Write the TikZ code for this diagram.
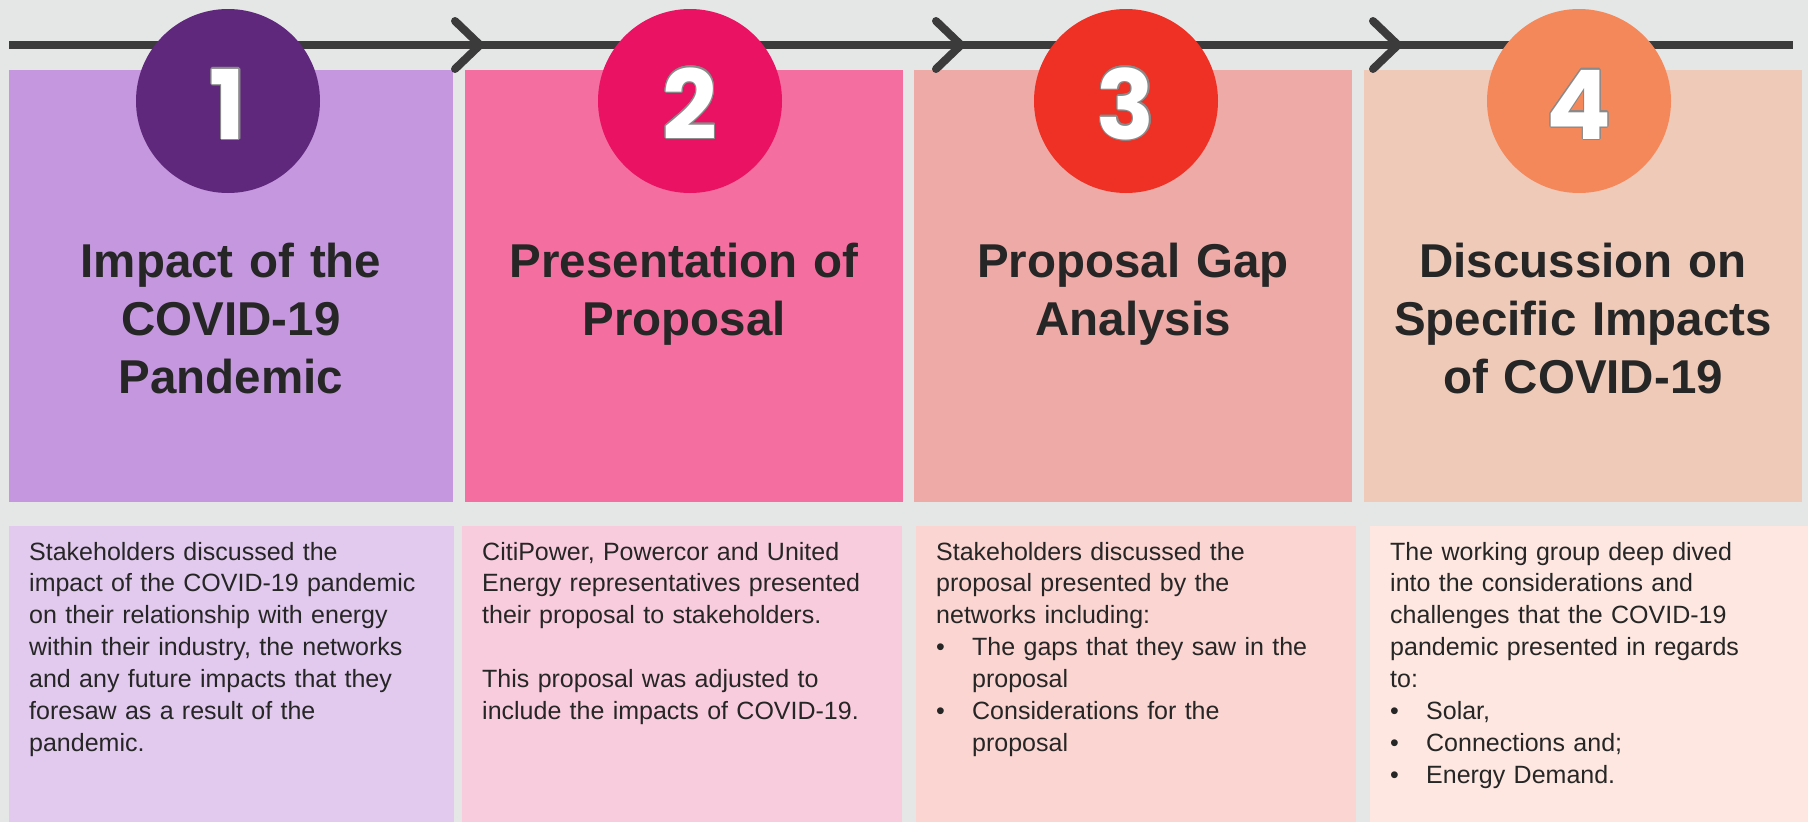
\documentclass[tikz,border=0pt]{standalone}
\usepackage{fontspec}
\setmainfont{Liberation Sans}
\newfontfamily\numfont{Poppins}
\usepackage{contour}
\contourlength{1.2pt}
\usetikzlibrary{calc}

\definecolor{bg}{HTML}{E5E7E6}
\definecolor{ink}{HTML}{262626}
\definecolor{rail}{HTML}{3B3B3B}
\definecolor{numedge}{HTML}{8A8A8A}
% step colours: disc, header panel, body panel
\definecolor{discA}{HTML}{5F287D}\definecolor{headA}{HTML}{C497DE}\definecolor{bodyA}{HTML}{E2C9EE}
\definecolor{discB}{HTML}{E91263}\definecolor{headB}{HTML}{F46E9F}\definecolor{bodyB}{HTML}{F9CCDD}
\definecolor{discC}{HTML}{EE3124}\definecolor{headC}{HTML}{EEAAA6}\definecolor{bodyC}{HTML}{FBD5D1}
\definecolor{discD}{HTML}{F4885A}\definecolor{headD}{HTML}{EFCAB8}\definecolor{bodyD}{HTML}{FDE7E0}

\begin{document}
\begin{tikzpicture}[x=1pt,y=-1pt,
  panel/.style={draw=none, inner sep=0, outer sep=0, anchor=north west},
  disc/.style={circle, draw=none, inner sep=0, minimum size=184},
  digit/.style={anchor=base, inner sep=0, text=white, font=\numfont\bfseries\fontsize{96}{96}\selectfont},
  heading/.style={anchor=base, inner sep=0, align=center, text width=440, text=ink,
                  font=\bfseries\fontsize{47.5}{58}\selectfont},
  body/.style={anchor=base west, inner sep=0, align=left, text width=420, text=ink,
               font=\fontsize{25}{31.9}\selectfont},
  railline/.style={draw=rail, line width=8},
  chevron/.style={draw=rail, line width=8, line cap=round, line join=round}]

% canvas
\fill[bg] (0,0) rectangle (1808,822);
\useasboundingbox (0,0) rectangle (1808,822);

% header panels
\node[panel, fill=headA, minimum width=444, minimum height=432] (headA) at (9,70) {};
\node[panel, fill=headB, minimum width=438, minimum height=432] (headB) at (465,70) {};
\node[panel, fill=headC, minimum width=438, minimum height=432] (headC) at (914,70) {};
\node[panel, fill=headD, minimum width=438, minimum height=432] (headD) at (1364,70) {};

% body panels
\node[panel, fill=bodyA, minimum width=445, minimum height=296] (bodyA) at (9,526) {};
\node[panel, fill=bodyB, minimum width=440, minimum height=296] (bodyB) at (462,526) {};
\node[panel, fill=bodyC, minimum width=440, minimum height=296] (bodyC) at (916,526) {};
\node[panel, fill=bodyD, minimum width=438, minimum height=296] (bodyD) at (1370,526) {};

% timeline rail with chevrons
\coordinate (railstart) at (9,45);
\coordinate (railend) at (1793,45);
\draw[railline] (railstart) -- (railend);
\coordinate (tipA) at (480,45);
\coordinate (tipB) at (961,45);
\coordinate (tipC) at (1398,45);
\draw[chevron] ($(tipA)+(-25,-24)$) -- (tipA) -- ($(tipA)+(-25,24)$);
\draw[chevron] ($(tipB)+(-25,-24)$) -- (tipB) -- ($(tipB)+(-25,24)$);
\draw[chevron] ($(tipC)+(-25,-24)$) -- (tipC) -- ($(tipC)+(-25,24)$);

% numbered discs
\node[disc, fill=discA] (discA) at (228,101) {};
\node[disc, fill=discB] (discB) at (690,101) {};
\node[disc, fill=discC] (discC) at (1126,101) {};
\node[disc, fill=discD] (discD) at (1579,101) {};
\node[digit] (numA) at (228,139) {\contour{numedge}{1}};
\node[digit] (numB) at (690,139) {\contour{numedge}{2}};
\node[digit] (numC) at (1126,139) {\contour{numedge}{3}};
\node[digit] (numD) at (1579,139) {\contour{numedge}{4}};

% headings
\node[heading] (titleA) at (231,277) {Impact of the\\COVID-19\\Pandemic};
\node[heading] (titleB) at (684,277) {Presentation of\\Proposal};
\node[heading] (titleC) at (1133,277) {Proposal Gap\\Analysis};
\node[heading] (titleD) at (1583,277) {Discussion on\\Specific Impacts\\of COVID-19};

% descriptions
\node[body] (textA) at (29,560) {Stakeholders discussed the\\
impact of the COVID-19 pandemic\\
on their relationship with energy\\
within their industry, the networks\\
and any future impacts that they\\
foresaw as a result of the\\
pandemic.};
\node[body] (textB) at (482,560) {CitiPower, Powercor and United\\
Energy representatives presented\\
their proposal to stakeholders.\\[31.9pt]
This proposal was adjusted to\\
include the impacts of COVID-19.};
\node[body] (textC) at (936,560) {Stakeholders discussed the\\
proposal presented by the\\
networks including:\\
\makebox[36pt][l]{•}The gaps that they saw in the\\
\hspace*{36pt}proposal\\
\makebox[36pt][l]{•}Considerations for the\\
\hspace*{36pt}proposal};
\node[body] (textD) at (1390,560) {The working group deep dived\\
into the considerations and\\
challenges that the COVID-19\\
pandemic presented in regards\\
to:\\
\makebox[36pt][l]{•}Solar,\\
\makebox[36pt][l]{•}Connections and;\\
\makebox[36pt][l]{•}Energy Demand.};
\end{tikzpicture}
\end{document}
